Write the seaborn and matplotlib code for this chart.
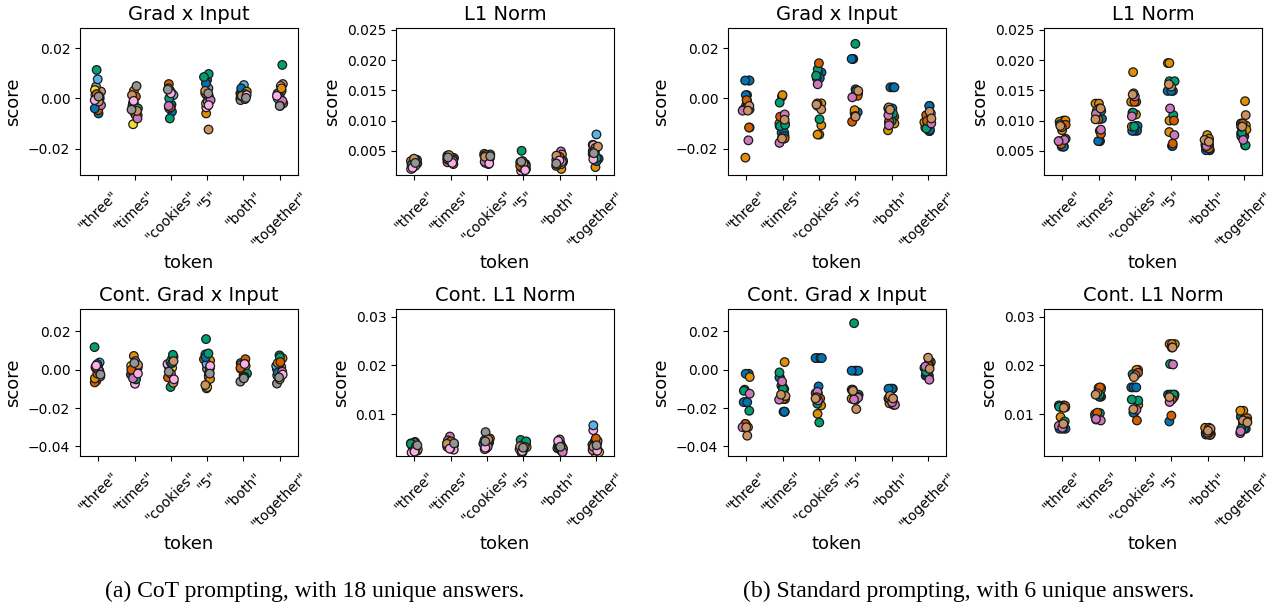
import numpy as np
import pandas as pd
import matplotlib
matplotlib.use("Agg")
import matplotlib.pyplot as plt
import seaborn as sns

tokens = ['"three"', '"times"', '"cookies"', '"5"', '"both"', '"together"']

# (a) CoT prompting: one sample per answer, 18 answers
cot_answers = [f"a{i}" for i in range(18)]

cot_grad_input = [
    [-0.0060, 0.0000, 0.0113, -0.0047, -0.0027, 0.0027, 0.0013, 0.0047, 0.0033, 0.0076, -0.0040, 0.0010, -0.0007, 0.0017, 0.0007, -0.0013, -0.0007, 0.0007],
    [-0.0047, 0.0030, -0.0020, 0.0007, -0.0023, 0.0013, -0.0060, 0.0049, -0.0103, -0.0030, -0.0033, -0.0067, -0.0040, -0.0067, -0.0080, -0.0050, -0.0010, -0.0045],
    [-0.0053, 0.0023, -0.0080, 0.0057, 0.0030, -0.0030, -0.0035, -0.0036, 0.0010, 0.0013, -0.0025, -0.0040, 0.0000, -0.0036, -0.0030, 0.0040, 0.0020, 0.0035],
    [0.0073, -0.0060, 0.0097, 0.0007, 0.0003, -0.0124, -0.0036, 0.0040, -0.0020, -0.0013, 0.0060, 0.0013, 0.0085, 0.0020, -0.0007, 0.0030, -0.0027, 0.0020],
    [0.0030, 0.0013, 0.0030, 0.0020, 0.0000, 0.0023, 0.0003, -0.0007, 0.0010, 0.0053, 0.0040, 0.0027, 0.0017, 0.0007, -0.0003, 0.0010, 0.0013, 0.0002],
    [-0.0010, 0.0013, 0.0133, 0.0030, -0.0007, 0.0057, 0.0049, 0.0007, -0.0020, 0.0000, 0.0020, 0.0040, -0.0015, -0.0020, -0.0010, -0.0030, 0.0010, -0.0030],
]
cot_l1 = [
    [0.0029, 0.0035, 0.0032, 0.0036, 0.0021, 0.0033, 0.0020, 0.0035, 0.0030, 0.0027, 0.0031, 0.0033, 0.0028, 0.0034, 0.0025, 0.0037, 0.0022, 0.0030],
    [0.0038, 0.0041, 0.0036, 0.0042, 0.0031, 0.0038, 0.0033, 0.0036, 0.0035, 0.0039, 0.0034, 0.0028, 0.0040, 0.0037, 0.0033, 0.0043, 0.0030, 0.0039],
    [0.0038, 0.0043, 0.0041, 0.0040, 0.0028, 0.0045, 0.0030, 0.0036, 0.0039, 0.0042, 0.0037, 0.0041, 0.0044, 0.0043, 0.0032, 0.0040, 0.0029, 0.0041],
    [0.0021, 0.0030, 0.0050, 0.0028, 0.0020, 0.0031, 0.0017, 0.0026, 0.0024, 0.0022, 0.0023, 0.0033, 0.0027, 0.0025, 0.0019, 0.0029, 0.0018, 0.0032],
    [0.0033, 0.0020, 0.0036, 0.0031, 0.0049, 0.0044, 0.0025, 0.0035, 0.0028, 0.0038, 0.0030, 0.0027, 0.0034, 0.0040, 0.0032, 0.0042, 0.0034, 0.0029],
    [0.0037, 0.0023, 0.0045, 0.0050, 0.0034, 0.0060, 0.0059, 0.0055, 0.0040, 0.0077, 0.0033, 0.0048, 0.0038, 0.0043, 0.0049, 0.0057, 0.0036, 0.0046],
]
cot_cont_grad_input = [
    [-0.0058, -0.0030, 0.0118, -0.0066, 0.0020, 0.0010, -0.0010, -0.0035, 0.0000, 0.0038, 0.0030, -0.0045, 0.0005, -0.0020, -0.0005, 0.0015, 0.0022, -0.0025],
    [-0.0015, 0.0072, 0.0010, -0.0030, 0.0010, -0.0042, -0.0073, 0.0045, 0.0020, -0.0005, -0.0025, -0.0010, -0.0050, 0.0000, -0.0045, 0.0025, -0.0020, 0.0035],
    [-0.0045, 0.0055, -0.0090, -0.0065, 0.0020, -0.0068, 0.0030, 0.0068, 0.0010, 0.0040, 0.0035, -0.0030, 0.0078, -0.0040, -0.0020, 0.0045, -0.0050, -0.0010],
    [0.0080, 0.0048, 0.0160, 0.0055, -0.0030, -0.0097, -0.0040, 0.0005, -0.0090, 0.0030, 0.0065, -0.0048, 0.0085, -0.0015, 0.0010, -0.0080, 0.0020, -0.0020],
    [-0.0030, 0.0040, 0.0035, 0.0055, 0.0025, 0.0002, 0.0005, -0.0062, -0.0010, 0.0015, 0.0030, 0.0020, -0.0020, 0.0010, -0.0035, -0.0040, 0.0030, -0.0045],
    [0.0010, 0.0060, 0.0075, -0.0020, 0.0015, 0.0005, 0.0030, -0.0072, -0.0030, 0.0020, -0.0015, 0.0035, 0.0065, 0.0040, -0.0010, -0.0050, -0.0025, -0.0040],
]
cot_cont_l1 = [
    [0.0035, 0.0030, 0.0043, 0.0033, 0.0025, 0.0038, 0.0021, 0.0041, 0.0028, 0.0040, 0.0037, 0.0032, 0.0039, 0.0034, 0.0027, 0.0030, 0.0023, 0.0036],
    [0.0038, 0.0036, 0.0041, 0.0039, 0.0054, 0.0037, 0.0027, 0.0046, 0.0033, 0.0040, 0.0035, 0.0042, 0.0036, 0.0044, 0.0030, 0.0039, 0.0029, 0.0040],
    [0.0042, 0.0045, 0.0040, 0.0050, 0.0030, 0.0044, 0.0028, 0.0063, 0.0038, 0.0043, 0.0039, 0.0047, 0.0046, 0.0041, 0.0033, 0.0048, 0.0031, 0.0044],
    [0.0038, 0.0025, 0.0047, 0.0035, 0.0028, 0.0043, 0.0020, 0.0029, 0.0032, 0.0036, 0.0040, 0.0022, 0.0044, 0.0033, 0.0026, 0.0034, 0.0024, 0.0031],
    [0.0034, 0.0042, 0.0030, 0.0040, 0.0048, 0.0038, 0.0025, 0.0028, 0.0031, 0.0037, 0.0032, 0.0036, 0.0027, 0.0029, 0.0022, 0.0035, 0.0045, 0.0033],
    [0.0040, 0.0017, 0.0035, 0.0048, 0.0030, 0.0042, 0.0067, 0.0029, 0.0022, 0.0077, 0.0037, 0.0045, 0.0038, 0.0050, 0.0026, 0.0033, 0.0025, 0.0036],
]

# (b) Standard prompting: 18 samples, 6 unique answers
std_answers = ["b0"] * 5 + ["b1"] * 4 + ["b2"] * 3 + ["b3"] * 2 + ["b4"] * 2 + ["b5"] * 2

std_grad_input = [
    [0.0071, 0.0071, 0.0071, 0.0013, 0.0013, -0.0027, -0.0236, -0.0116, -0.0010, -0.0044, -0.0020, -0.0044, -0.0116, -0.0007, -0.0049, -0.0167, -0.0030, -0.0049],
    [0.0007, -0.0137, -0.0137, -0.0110, -0.0150, 0.0013, -0.0100, -0.0100, -0.0160, -0.0017, -0.0110, -0.0105, -0.0073, -0.0160, -0.0064, -0.0177, -0.0160, -0.0085],
    [0.0103, 0.0103, 0.0103, 0.0080, 0.0080, -0.0020, -0.0107, -0.0144, -0.0144, 0.0116, -0.0083, 0.0090, 0.0140, -0.0020, 0.0056, -0.0030, -0.0044, -0.0025],
    [0.0157, 0.0157, 0.0157, -0.0060, -0.0055, 0.0020, 0.0013, -0.0047, 0.0025, 0.0217, 0.0036, 0.0030, -0.0093, 0.0010, 0.0004, -0.0070, 0.0030, -0.0073],
    [0.0044, 0.0044, 0.0044, -0.0040, -0.0040, -0.0073, -0.0127, -0.0080, -0.0100, -0.0097, -0.0090, -0.0060, -0.0090, -0.0050, -0.0067, -0.0107, -0.0036, -0.0045],
    [-0.0030, -0.0030, -0.0130, -0.0130, -0.0125, -0.0116, -0.0110, -0.0095, -0.0085, -0.0090, -0.0100, -0.0120, -0.0067, -0.0090, -0.0060, -0.0100, -0.0053, -0.0080],
]
std_l1 = [
    [0.0095, 0.0095, 0.0057, 0.0057, 0.0057, 0.0100, 0.0084, 0.0098, 0.0100, 0.0094, 0.0070, 0.0066, 0.0093, 0.0061, 0.0068, 0.0066, 0.0089, 0.0091],
    [0.0066, 0.0066, 0.0066, 0.0103, 0.0103, 0.0128, 0.0128, 0.0083, 0.0120, 0.0116, 0.0116, 0.0110, 0.0078, 0.0102, 0.0111, 0.0085, 0.0102, 0.0120],
    [0.0091, 0.0091, 0.0083, 0.0083, 0.0083, 0.0180, 0.0131, 0.0110, 0.0090, 0.0113, 0.0113, 0.0090, 0.0131, 0.0131, 0.0140, 0.0107, 0.0145, 0.0143],
    [0.0149, 0.0149, 0.0058, 0.0058, 0.0149, 0.0195, 0.0195, 0.0081, 0.0100, 0.0165, 0.0165, 0.0109, 0.0100, 0.0062, 0.0120, 0.0076, 0.0156, 0.0160],
    [0.0057, 0.0057, 0.0051, 0.0051, 0.0051, 0.0076, 0.0070, 0.0065, 0.0060, 0.0060, 0.0055, 0.0058, 0.0062, 0.0054, 0.0061, 0.0058, 0.0068, 0.0065],
    [0.0079, 0.0074, 0.0079, 0.0074, 0.0078, 0.0132, 0.0095, 0.0092, 0.0085, 0.0059, 0.0059, 0.0080, 0.0095, 0.0095, 0.0090, 0.0068, 0.0109, 0.0090],
]
std_cont_grad_input = [
    [-0.0021, -0.0169, -0.0169, -0.0169, -0.0021, -0.0296, -0.0290, -0.0038, -0.0300, -0.0104, -0.0214, -0.0110, -0.0283, -0.0283, -0.0125, -0.0300, -0.0344, -0.0300],
    [-0.0040, -0.0219, -0.0219, -0.0219, -0.0040, 0.0040, -0.0083, -0.0153, -0.0090, -0.0014, -0.0101, -0.0100, -0.0153, -0.0153, -0.0061, -0.0156, -0.0137, -0.0130],
    [0.0061, 0.0061, 0.0061, 0.0061, -0.0087, -0.0186, -0.0230, -0.0130, -0.0150, -0.0177, -0.0275, -0.0120, -0.0122, -0.0150, -0.0115, -0.0160, -0.0143, -0.0150],
    [-0.0005, -0.0005, -0.0005, -0.0005, -0.0134, -0.0104, -0.0104, -0.0151, -0.0134, 0.0243, -0.0120, -0.0130, -0.0157, -0.0140, -0.0146, -0.0155, -0.0205, -0.0110],
    [-0.0099, -0.0099, -0.0099, -0.0099, -0.0150, -0.0169, -0.0150, -0.0160, -0.0175, -0.0183, -0.0160, -0.0150, -0.0148, -0.0174, -0.0183, -0.0170, -0.0136, -0.0150],
    [-0.0031, -0.0031, -0.0031, 0.0010, -0.0020, -0.0003, 0.0040, 0.0020, 0.0010, 0.0052, -0.0010, 0.0030, 0.0023, 0.0020, 0.0017, -0.0052, 0.0063, 0.0005],
]
std_cont_l1 = [
    [0.0118, 0.0118, 0.0070, 0.0070, 0.0070, 0.0114, 0.0114, 0.0094, 0.0076, 0.0085, 0.0115, 0.0080, 0.0077, 0.0117, 0.0076, 0.0072, 0.0113, 0.0080],
    [0.0136, 0.0136, 0.0136, 0.0089, 0.0089, 0.0154, 0.0154, 0.0100, 0.0150, 0.0102, 0.0140, 0.0095, 0.0155, 0.0103, 0.0087, 0.0090, 0.0143, 0.0140],
    [0.0155, 0.0155, 0.0155, 0.0103, 0.0103, 0.0191, 0.0191, 0.0119, 0.0180, 0.0182, 0.0128, 0.0130, 0.0087, 0.0185, 0.0109, 0.0180, 0.0176, 0.0110],
    [0.0140, 0.0140, 0.0140, 0.0085, 0.0140, 0.0244, 0.0244, 0.0244, 0.0135, 0.0237, 0.0203, 0.0140, 0.0097, 0.0130, 0.0202, 0.0125, 0.0237, 0.0135],
    [0.0062, 0.0062, 0.0059, 0.0059, 0.0059, 0.0072, 0.0072, 0.0068, 0.0065, 0.0062, 0.0060, 0.0058, 0.0057, 0.0064, 0.0059, 0.0062, 0.0070, 0.0066],
    [0.0095, 0.0095, 0.0070, 0.0070, 0.0090, 0.0107, 0.0107, 0.0090, 0.0080, 0.0087, 0.0085, 0.0070, 0.0092, 0.0085, 0.0061, 0.0065, 0.0087, 0.0083],
]

titles = ["Grad x Input", "L1 Norm", "Cont. Grad x Input", "Cont. L1 Norm"]
ylims = [(-0.0305, 0.028), (0.001, 0.0253), (-0.045, 0.0317), (0.0014, 0.0316)]
captions = ["(a) CoT prompting, with 18 unique answers.",
            "(b) Standard prompting, with 6 unique answers."]

cb = sns.color_palette("colorblind")
pal_cot = [cb[i % 10] for i in range(18)]
pal_std = cb[:6]

W, H = 1274, 609
fig = plt.figure(figsize=(W / 100, H / 100), dpi=100)


def make_ax(x0, y0, x1, y1):
    return fig.add_axes([x0 / W, 1 - y1 / H, (x1 - x0) / W, (y1 - y0) / H])


def long_df(values, answers):
    rows = []
    for tok, vals in zip(tokens, values):
        for ans, v in zip(answers, vals):
            rows.append({"token": tok, "score": v, "answer": ans})
    return pd.DataFrame(rows)


groups = [
    (80, [cot_grad_input, cot_l1, cot_cont_grad_input, cot_cont_l1], cot_answers, pal_cot),
    (728, [std_grad_input, std_l1, std_cont_grad_input, std_cont_l1], std_answers, pal_std),
]
col_off = [0, 316]
row_y = [(28, 175), (309, 456)]

np.random.seed(3)
for gx, panels, answers, pal in groups:
    for k, vals in enumerate(panels):
        r, c = divmod(k, 2)
        x0 = gx + col_off[c]
        ax = make_ax(x0, row_y[r][0], x0 + 218, row_y[r][1])
        df = long_df(vals, answers)
        sns.stripplot(data=df, x="token", y="score", hue="answer",
                      hue_order=sorted(set(answers), key=answers.index),
                      palette=pal, order=tokens, size=6.2, linewidth=0.9,
                      edgecolor="0.1", legend=False, ax=ax)
        ax.set_ylim(*ylims[k])
        ax.set_title(titles[k], fontsize=14)
        ax.set_xlabel("token", fontsize=13, labelpad=3)
        ax.set_ylabel("score", fontsize=13)
        ax.tick_params(axis="y", labelsize=10)
        ax.tick_params(axis="x", labelsize=10, pad=6)
        plt.setp(ax.get_xticklabels(), rotation=45, ha="center")

fig.text(315 / W, 1 - 591 / H, captions[0], ha="center", va="center",
         family="Liberation Serif", fontsize=17)
fig.text(969 / W, 1 - 591 / H, captions[1], ha="center", va="center",
         family="Liberation Serif", fontsize=17)

fig.savefig("out.png", dpi=100)
